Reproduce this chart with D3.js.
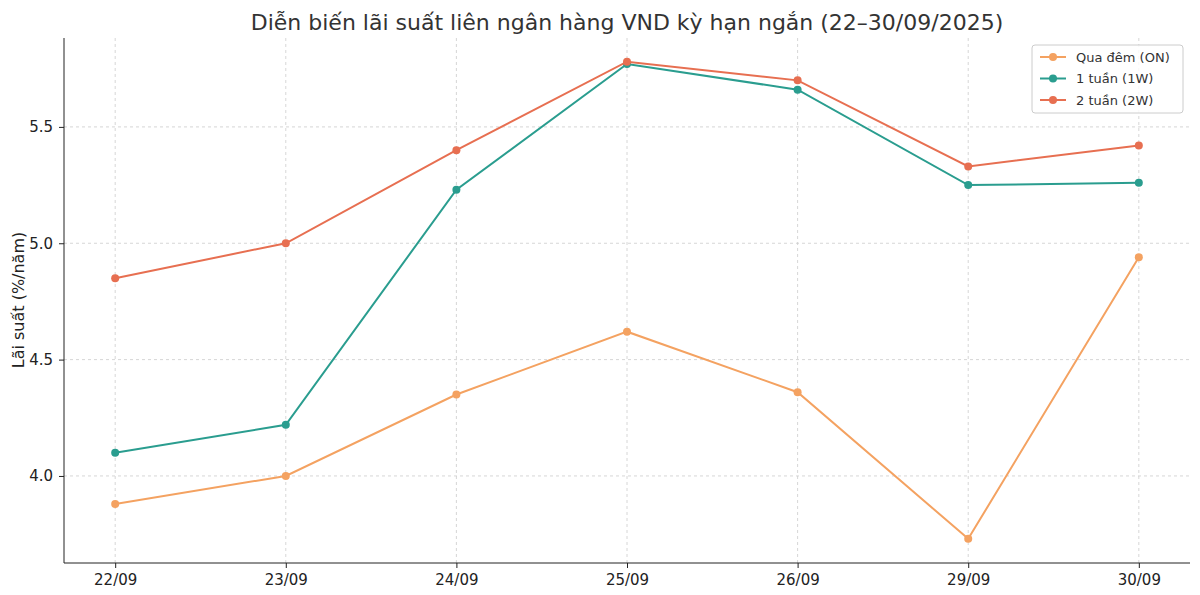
<!DOCTYPE html>
<html><head><meta charset="utf-8">
<script src="https://cdn.jsdelivr.net/npm/d3@7"></script>
<style>body{margin:0;background:#fff;font-family:"DejaVu Sans",sans-serif;}</style>
</head><body><svg id="c" width="1200" height="595"></svg>
<script>
const categories=["22/09","23/09","24/09","25/09","26/09","29/09","30/09"];
const seriesNames=["Qua đêm (ON)","1 tuần (1W)","2 tuần (2W)"];
const seriesColors=["#f4a261","#2a9d8f","#e76f51"];
const onValues=[3.88,4.00,4.35,4.62,4.36,3.73,4.94];
const w1Values=[4.10,4.22,5.23,5.77,5.66,5.25,5.26];
const w2Values=[4.85,5.00,5.40,5.78,5.70,5.33,5.42];
const yTicks=[4.0,4.5,5.0,5.5];
const series=[onValues,w1Values,w2Values];
const svg=d3.select("#c");
const L=64,R=1190,T=38,B=563;
const x=d3.scalePoint().domain(categories).range([L,R]).padding(0.3);
const y=d3.scaleLinear().domain([3.626,5.882]).range([B,T]);
const g=svg.append("g");
// grid
g.selectAll(".vg").data(categories).enter().append("line").attr("x1",d=>x(d)).attr("x2",d=>x(d)).attr("y1",T).attr("y2",B).attr("stroke","#ccc").attr("stroke-dasharray","3,3").attr("stroke-width",0.8);
g.selectAll(".hg").data(yTicks).enter().append("line").attr("x1",L).attr("x2",R).attr("y1",d=>y(d)).attr("y2",d=>y(d)).attr("stroke","#ccc").attr("stroke-dasharray","3,3").attr("stroke-width",0.8);
const xa=svg.append("g").attr("transform",`translate(0,${B})`).call(d3.axisBottom(x).tickSizeOuter(0).tickSize(5).tickPadding(6));
const ya=svg.append("g").attr("transform",`translate(${L},0)`).call(d3.axisLeft(y).tickValues(yTicks).tickFormat(d3.format(".1f")).tickSizeOuter(0).tickSize(5).tickPadding(6));
[xa,ya].forEach(a=>{a.selectAll("text").attr("font-size",15).attr("fill","#222").attr("font-family","DejaVu Sans");a.select(".domain").attr("stroke","#222");a.selectAll(".tick line").attr("stroke","#222");});
xa.select(".domain").attr("d",`M${L},0H${R}`);
ya.select(".domain").attr("d",`M0,${T}V${B}`);
const line=d3.line().x((d,i)=>x(categories[i])).y(d=>y(d));
series.forEach((s,k)=>{
 svg.append("path").datum(s).attr("d",line).attr("fill","none").attr("stroke",seriesColors[k]).attr("stroke-width",2);
 svg.selectAll(".p"+k).data(s).enter().append("circle").attr("cx",(d,i)=>x(categories[i])).attr("cy",d=>y(d)).attr("r",4).attr("fill",seriesColors[k]);
});
svg.append("text").attr("x",627).attr("y",30).attr("text-anchor","middle").attr("font-size",22).attr("fill","#333").text("Diễn biến lãi suất liên ngân hàng VND kỳ hạn ngắn (22–30/09/2025)");
svg.append("text").attr("transform","translate(24,300) rotate(-90)").attr("text-anchor","middle").attr("font-size",16).attr("fill","#222").text("Lãi suất (%/năm)");
const lg=svg.append("g");
lg.append("rect").attr("x",1032).attr("y",45).attr("width",151).attr("height",68).attr("rx",3).attr("fill","#fff").attr("fill-opacity",0.8).attr("stroke","#ccc");
seriesNames.forEach((n,k)=>{
 const yy=57+k*21.5;
 lg.append("line").attr("x1",1040).attr("x2",1066).attr("y1",yy).attr("y2",yy).attr("stroke",seriesColors[k]).attr("stroke-width",2);
 lg.append("circle").attr("cx",1053).attr("cy",yy).attr("r",4).attr("fill",seriesColors[k]);
 lg.append("text").attr("x",1076).attr("y",yy+4.5).attr("font-size",13).attr("fill","#333").text(n);
});
</script></body></html>
